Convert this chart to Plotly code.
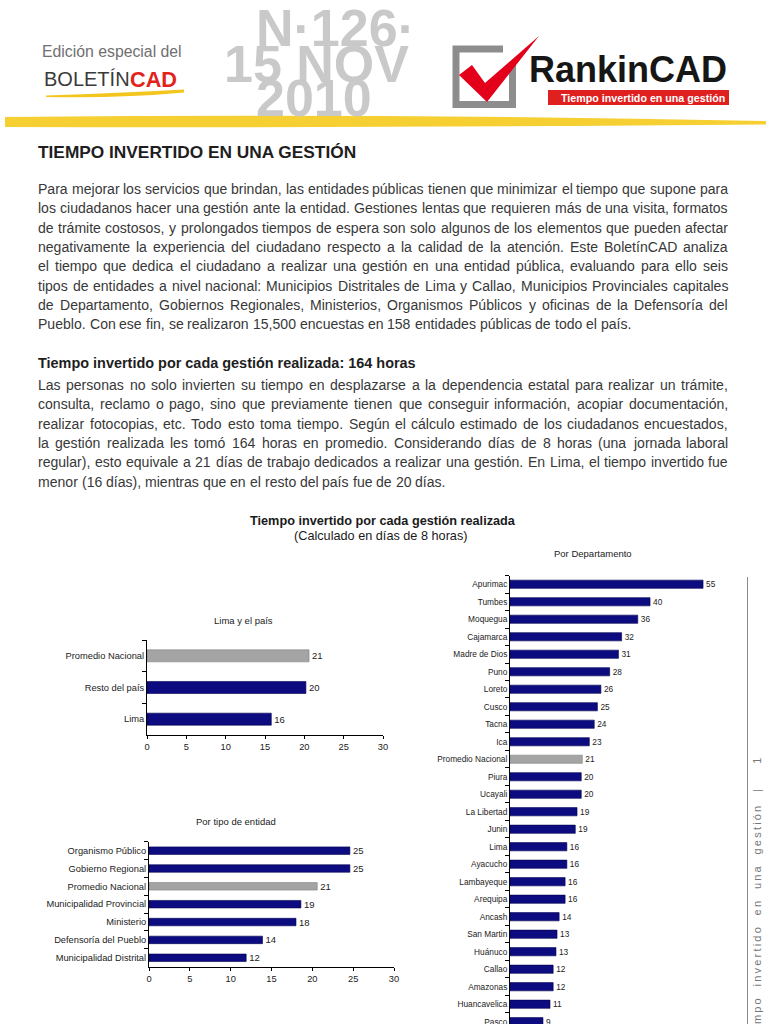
import os, glob, unicodedata
import plotly.graph_objects as go

# ---------------- data ----------------
lima_categories = ["Promedio Nacional", "Resto del país", "Lima"]
lima_values = [20.6, 20.2, 15.8]

entidad_categories = ["Organismo Público", "Gobierno Regional", "Promedio Nacional",
                      "Municipalidad Provincial", "Ministerio", "Defensoría del Pueblo",
                      "Municipalidad Distrital"]
entidad_values = [24.6, 24.6, 20.6, 18.6, 18.0, 13.9, 11.9]

depto_categories = ["Apurimac", "Tumbes", "Moquegua", "Cajamarca", "Madre de Dios", "Puno",
                    "Loreto", "Cusco", "Tacna", "Ica", "Promedio Nacional", "Piura", "Ucayali",
                    "La Libertad", "Junin", "Lima", "Ayacucho", "Lambayeque", "Arequipa",
                    "Ancash", "San Martin", "Huánuco", "Callao", "Amazonas", "Huancavelica",
                    "Pasco"]
depto_values = [55.0, 39.9, 36.4, 31.8, 30.9, 28.4, 25.9, 24.9, 24.0, 22.6, 20.6, 20.3, 20.3,
                19.1, 18.6, 16.2, 16.2, 15.7, 15.7, 14.0, 13.4, 13.1, 12.3, 12.3, 11.4, 9.4]

small_ticks = [0, 5, 10, 15, 20, 25, 30]

title_text = "TIEMPO INVERTIDO EN UNA GESTIÓN"
para1_lines = [
    "Para mejorar los servicios que brindan, las entidades públicas tienen que minimizar el tiempo que supone para",
    "los ciudadanos hacer una gestión ante la entidad. Gestiones lentas que requieren más de una visita, formatos",
    "de trámite costosos, y prolongados tiempos de espera son solo algunos de los elementos que pueden afectar",
    "negativamente la experiencia del ciudadano respecto a la calidad de la atención. Este BoletínCAD analiza",
    "el tiempo que dedica el ciudadano a realizar una gestión en una entidad pública, evaluando para ello seis",
    "tipos de entidades a nivel nacional: Municipios Distritales de Lima y Callao, Municipios Provinciales capitales",
    "de Departamento, Gobiernos Regionales, Ministerios, Organismos Públicos y oficinas de la Defensoría del",
    "Pueblo. Con ese fin, se realizaron 15,500 encuestas en 158 entidades públicas de todo el país.",
]
heading2_text = "Tiempo invertido por cada gestión realizada: 164 horas"
para2_lines = [
    "Las personas no solo invierten su tiempo en desplazarse a la dependencia estatal para realizar un trámite,",
    "consulta, reclamo o pago, sino que previamente tienen que conseguir información, acopiar documentación,",
    "realizar fotocopias, etc. Todo esto toma tiempo. Según el cálculo estimado de los ciudadanos encuestados,",
    "la gestión realizada les tomó 164 horas en promedio. Considerando días de 8 horas (una jornada laboral",
    "regular), esto equivale a 21 días de trabajo dedicados a realizar una gestión. En Lima, el tiempo invertido fue",
    "menor (16 días), mientras que en el resto del país fue de 20 días.",
]

# ---------------- helpers ----------------
WPX, HPX = 768, 1024
def X(px): return px / WPX
def Y(py): return 1 - py / HPX

def has_font(pattern):
    for d in ["/usr/share/fonts", "/usr/local/share/fonts",
              os.path.expanduser("~/.fonts"), os.path.expanduser("~/.local/share/fonts")]:
        if glob.glob(os.path.join(d, "**", pattern), recursive=True):
            return True
    return False

NARROW = has_font("LiberationSansNarrow-Regular*")
ARIAL = "Liberation Sans, Arial, Helvetica, sans-serif"
if NARROW:
    BODY = "Liberation Sans Narrow, Arial Narrow, Liberation Sans, sans-serif"
    K = 0.82
else:
    BODY = ARIAL
    K = 1.0

def mk(groups):
    t = {}
    for chars, w in groups:
        for c in chars:
            t[c] = w
    return t

HR = mk([("ijl", 222), (" ftI,.:;/!", 278), ("r()-", 333), ("ckvsxyzJ", 500),
         ("abdeghnopqu0123456789L", 556), ("FTZ", 611), ("ABEKPSVXY", 667),
         ("CDHNRUw", 722), ("GOQ", 778), ("mM", 833), ("W", 944), ("|", 260)])
HR["í"] = 278
HB = mk([("ijl ,.I", 278), ("ft:;!()-", 333), ("r", 389), ("z", 500),
         ("acekvsxyJ0123456789", 556), ("bdghnopquFLTZ", 611), ("EPSVXY", 667),
         ("ABCDHKNRU", 722), ("wGOQ", 778), ("M", 833), ("m", 889), ("W", 944)])

def em(s, table):
    tot = 0
    for ch in s:
        if ch in table:
            tot += table[ch]
        else:
            b = unicodedata.normalize("NFD", ch)[0]
            tot += table.get(b, 556)
    return tot / 1000.0

NAVY = "#0c0c80"
GRAY = "#a4a4a4"
TXT = "#222222"

fig = go.Figure()

def bar_trace(cats, vals, xa, ya, width, fsize):
    return go.Bar(
        y=cats, x=vals, orientation="h", xaxis=xa, yaxis=ya, width=width,
        marker=dict(color=[GRAY if c == "Promedio Nacional" else NAVY for c in cats],
                    line=dict(color=["#808080" if c == "Promedio Nacional" else "#000050" for c in cats],
                              width=0.6)),
        text=[f"{round(v)}" for v in vals], textposition="outside", constraintext="none",
        textfont=dict(family=ARIAL, size=fsize, color=TXT),
        hoverinfo="skip", showlegend=False)

t1 = bar_trace(lima_categories, lima_values, "x", "y", 0.38, 9.5); t1.cliponaxis = False
t2 = bar_trace(entidad_categories, entidad_values, "x2", "y2", 0.42, 9.5); t2.cliponaxis = False
t3 = bar_trace(depto_categories, depto_values, "x3", "y3", 0.47, 8.3)
fig.add_traces([t1, t2, t3])

def xax(dom, rng, anchor, show=True, fsize=9.3):
    return dict(domain=dom, range=rng, anchor=anchor, tickvals=small_ticks, showline=show,
                linecolor="#000", linewidth=1, ticks="outside" if show else "", ticklen=3,
                tickcolor="#000", showgrid=False, zeroline=False, showticklabels=show,
                tickfont=dict(family=ARIAL, size=fsize, color=TXT), automargin=False,
                fixedrange=True, visible=show)

def yax(dom, cats, anchor, rng=None, fsize=9.3):
    d = dict(domain=dom, anchor=anchor, type="category", categoryorder="array",
             categoryarray=cats, showline=True, linecolor="#000", linewidth=1,
             ticks="outside", tickson="boundaries", ticklen=4, tickcolor="#000",
             showgrid=False, zeroline=False, tickfont=dict(family=ARIAL, size=fsize, color=TXT),
             automargin=False, fixedrange=True)
    if rng is None:
        d["autorange"] = "reversed"
    else:
        d["range"] = rng
    return d

fig.update_layout(
    width=WPX, height=HPX, margin=dict(l=0, r=0, t=0, b=0),
    paper_bgcolor="white", plot_bgcolor="white", template="none",
    font=dict(family=ARIAL, color=TXT), showlegend=False, hovermode=False,
    xaxis=xax([X(147), X(383)], [0, 30], "y"),
    yaxis=yax([Y(735), Y(640)], lima_categories, "x"),
    xaxis2=xax([X(149), X(394)], [0, 30], "y2"),
    yaxis2=yax([Y(966.7), Y(841.7)], entidad_categories, "x2"),
    xaxis3=xax([X(510), X(720.6)], [0, 60], "y3", show=False),
    yaxis3=yax([0, Y(575.5)], depto_categories, "x3", rng=[25.13, -0.5], fsize=8.3),
)

ann = []
def A(text, x, y, size, color=TXT, family=ARIAL, xanchor="center", yanchor="middle", **kw):
    ann.append(dict(text=text, x=X(x), y=Y(y), xref="paper", yref="paper", showarrow=False,
                    xanchor=xanchor, yanchor=yanchor,
                    font=dict(size=size, color=color, family=family), **kw))

# ---------------- header ----------------
A("Edición especial del", 40, 51, 15.8, color="#707070", xanchor="left")
if NARROW:
    A("BOLETÍN", 42, 79, 24.5, color="#3a3a3a", family=BODY, xanchor="left")
else:
    A("BOLETÍN", 42, 79, 20, color="#3a3a3a", xanchor="left")
A("<b>CAD</b>", 179, 79, 21.7, color="#e2231a", xanchor="right")

BIG = "#c8c9c8"
A("<b>N·126·</b>", 335, 28, 52, color=BIG)
A("<b>15 NOV</b>", 316, 64, 52, color=BIG)
A("<b>2010</b>", 314, 98, 52, color=BIG)

A("<b>RankinCAD</b>", 628, 69.5, 36, color="#161616")
A("<b>Tiempo invertido en una gestión</b>", 643, 97.5, 10.7, color="white")

def P(points, close=True):
    s = "M " + " L ".join(f"{X(a):.5f},{Y(b):.5f}" for a, b in points)
    return s + (" Z" if close else "")

shapes = []
# long yellow band
shapes.append(dict(type="path", xref="paper", yref="paper",
                   path=f"M {X(5)},{Y(117)} Q {X(380)},{Y(113)} {X(766)},{Y(121)} "
                        f"L {X(766)},{Y(124.5)} Q {X(380)},{Y(128)} {X(5)},{Y(127)} Z",
                   fillcolor="#f6cf32", line=dict(width=0)))
# small swoosh under BOLETINCAD
shapes.append(dict(type="path", xref="paper", yref="paper",
                   path=f"M {X(46)},{Y(95.5)} Q {X(120)},{Y(93)} {X(184)},{Y(89.5)} "
                        f"L {X(184)},{Y(92.5)} Q {X(120)},{Y(98.5)} {X(46)},{Y(97)} Z",
                   fillcolor="#f2c61c", line=dict(width=0)))
# gray box of logo
shapes.append(dict(type="path", xref="paper", yref="paper",
                   path=P([(503, 49), (456, 49), (456, 104.5), (512.5, 104.5), (512.5, 62)], close=False),
                   fillcolor="rgba(0,0,0,0)", line=dict(color="#8d8d8d", width=7)))
# red check
shapes.append(dict(type="path", xref="paper", yref="paper",
                   path=P([(459, 75), (472, 65), (485, 83), (539, 36), (487, 102)]),
                   fillcolor="#e3001b", line=dict(width=0)))
# red box
shapes.append(dict(type="rect", xref="paper", yref="paper", x0=X(548), x1=X(729),
                   y0=Y(105), y1=Y(90), fillcolor="#e0201f", line=dict(width=0), layer="below"))
# right vertical rule
shapes.append(dict(type="line", xref="paper", yref="paper", x0=X(747.5), x1=X(747.5),
                   y0=Y(577), y1=0, line=dict(color="#8a8a8a", width=1)))

# ---------------- body text ----------------
BODY_X0, BODY_X1 = 38, 728
BW = BODY_X1 - BODY_X0
BOLD_FAMILY = BODY
KB = K

A(f"<b>{title_text}</b>", BODY_X0 - 2, 152, 319 / (KB * em(title_text, HB)),
  color="#1e1e1e", family=BOLD_FAMILY, xanchor="left")
A(f"<b>{heading2_text}</b>", BODY_X0 - 2, 363, 378 / (KB * em(heading2_text, HB)),
  color="#1e1e1e", family=BOLD_FAMILY, xanchor="left")

just_lines = para1_lines[:-1] + para2_lines[:-1]
fs = min(BW / (K * em(l, HR)) for l in just_lines)
fs = min(fs, 17.0)
BODY_COLOR = "#383838"

def put_line(text, y, justify):
    words = text.split(" ")
    wpx = [fs * K * em(w, HR) for w in words]
    if justify and len(words) > 1:
        gap = (BW - sum(wpx)) / (len(words) - 1)
    else:
        gap = fs * K * 0.278
    x = BODY_X0
    for i, (w, wp) in enumerate(zip(words, wpx)):
        if justify and i == len(words) - 1:
            A(w, BODY_X1 + 2, y, fs, color=BODY_COLOR, family=BODY, xanchor="right")
        else:
            A(w, x - 2, y, fs, color=BODY_COLOR, family=BODY, xanchor="left")
        x += wp + gap

for i, line in enumerate(para1_lines):
    put_line(line, 189 + i * 19.3, i < len(para1_lines) - 1)
for i, line in enumerate(para2_lines):
    put_line(line, 385 + i * 19.3, i < len(para2_lines) - 1)

# ---------------- chart texts ----------------
A("<b>Tiempo invertido por cada gestión realizada</b>", 382.5, 521, 12.7, color="#1a1a1a")
A("(Calculado en días de 8 horas)", 381, 536, 12.7, color="#1a1a1a")
A("Lima y el país", 243, 620.5, 9.5)
A("Por tipo de entidad", 236, 821, 9.5)
A("Por Departamento", 593, 553, 9.5)

ts = "\u2009"
side = "\u2009\u2009 \u2009\u2009".join(ts.join(list(w)) for w in "Tiempo invertido en una gestión".split(" "))
side = side + "\u2002 \u2002|\u2002\u2002 \u2002\u20021"
A(side, 757, 756, 11, color="#777777", yanchor="top", textangle=-90)

fig.update_layout(annotations=ann, shapes=shapes)

fig.write_html("out.html", config={"displayModeBar": False, "staticPlot": True},
               post_script="document.body.style.margin='0';document.body.style.overflow='hidden';")
